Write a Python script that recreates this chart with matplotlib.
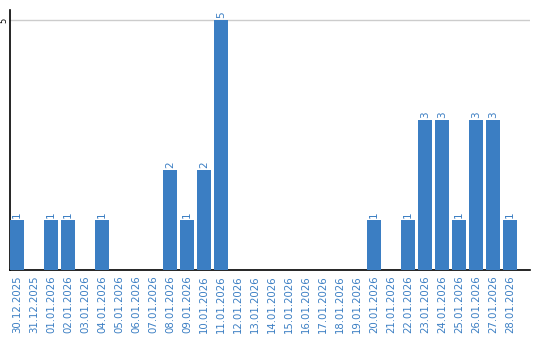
import matplotlib
matplotlib.use("Agg")
import matplotlib.pyplot as plt

dates = ["30.12.2025", "31.12.2025", "01.01.2026", "02.01.2026", "03.01.2026",
         "04.01.2026", "05.01.2026", "06.01.2026", "07.01.2026", "08.01.2026",
         "09.01.2026", "10.01.2026", "11.01.2026", "12.01.2026", "13.01.2026",
         "14.01.2026", "15.01.2026", "16.01.2026", "17.01.2026", "18.01.2026",
         "19.01.2026", "20.01.2026", "21.01.2026", "22.01.2026", "23.01.2026",
         "24.01.2026", "25.01.2026", "26.01.2026", "27.01.2026", "28.01.2026"]
values = [1, 0, 1, 1, 0, 1, 0, 0, 0, 2, 1, 2, 5, 0, 0, 0, 0, 0, 0, 0,
          0, 1, 0, 1, 3, 3, 1, 3, 3, 1]
yticks = [5]

blue = "#3b7ec3"
fig = plt.figure(figsize=(5.4, 3.4), dpi=100)
ax = fig.add_axes([10/540, 1 - 270/340, 520/540, 260/340])
x = list(range(len(dates)))
w = 0.82
ax.bar(x, values, width=w, color=blue, zorder=3)
for xi, v in zip(x, values):
    if v > 0:
        ax.text(xi, v + 0.03, str(v), rotation=90, ha="center", va="bottom",
                color=blue, fontsize=7.5)
ax.set_xlim(-w/2, (520/17) - w/2)
ax.set_ylim(0, 5.2)
ax.set_yticks(yticks)
ax.set_yticklabels([str(t) for t in yticks], rotation=90, va="center", fontsize=6)
ax.tick_params(axis="y", length=0, pad=1)
ax.yaxis.grid(True, color="#cccccc", linewidth=1, zorder=0)
ax.set_xticks(x)
ax.set_xticklabels(dates, rotation=90, fontsize=7.3, color=blue)
ax.tick_params(axis="x", length=0, pad=4)
for s in ["top", "right"]:
    ax.spines[s].set_visible(False)
ax.spines["left"].set_color("black")
ax.spines["bottom"].set_color("black")
ax.spines["left"].set_linewidth(1.2)
ax.spines["bottom"].set_linewidth(1.2)
fig.savefig("out.png", dpi=100)
